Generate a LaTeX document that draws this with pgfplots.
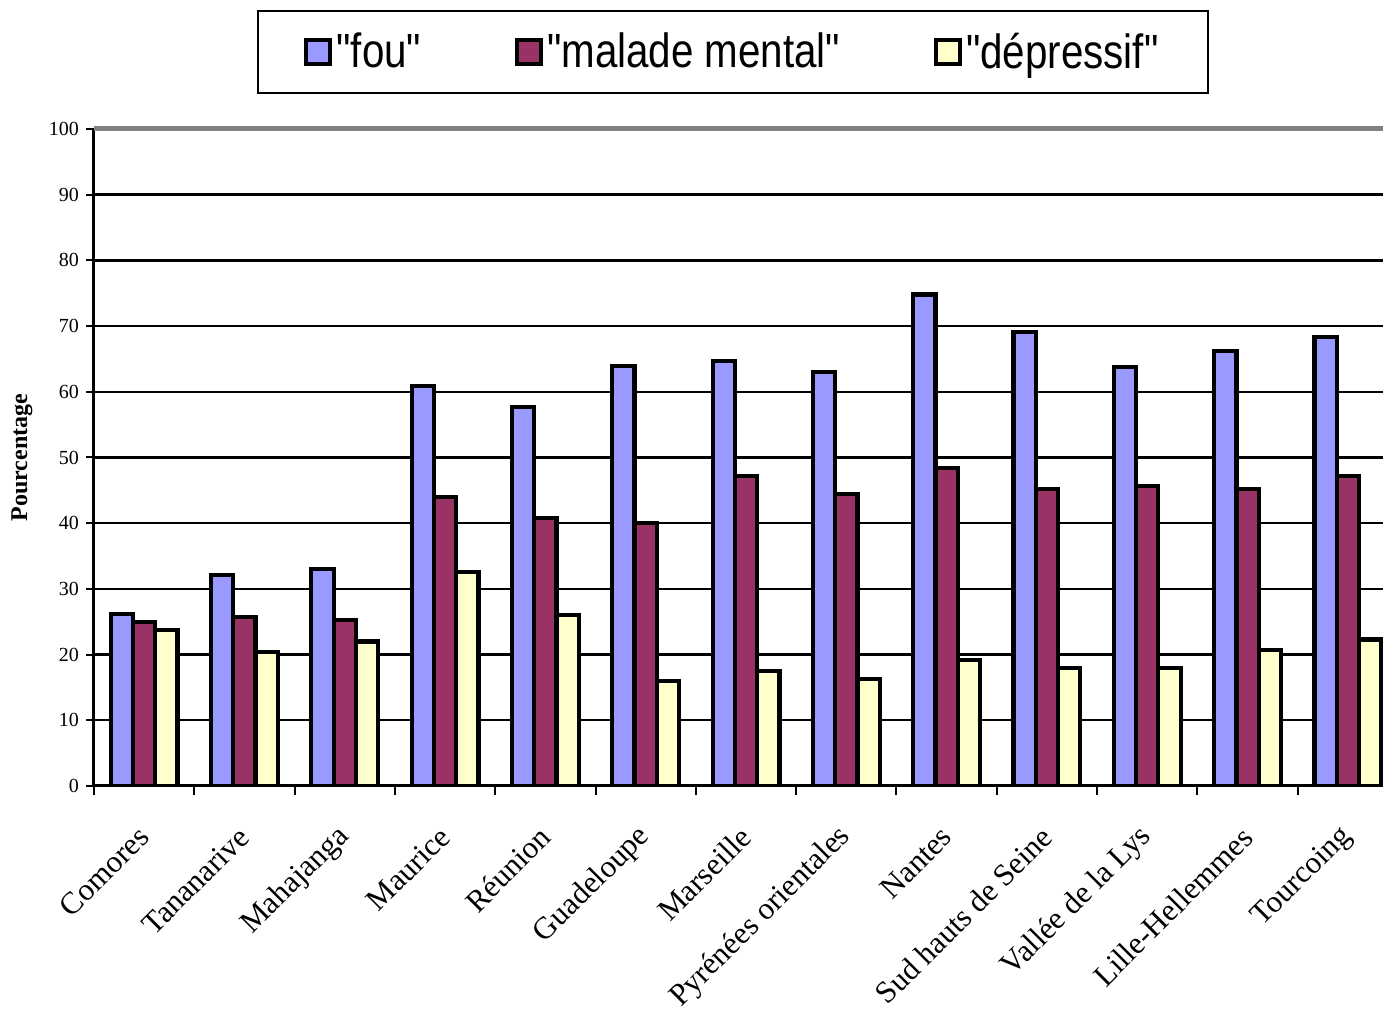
\documentclass[border=0pt]{standalone}
\usepackage{fontspec}
\setmainfont{Liberation Serif}
\newfontfamily\legfont[FakeStretch=0.84]{Liberation Sans}
\usepackage{pgfplots}
\pgfplotsset{compat=1.18}
\definecolor{cfou}{HTML}{9999FF}
\definecolor{cmal}{HTML}{993366}
\definecolor{cdep}{HTML}{FFFFCC}
\definecolor{ctop}{HTML}{808080}
\begin{document}
\begin{tikzpicture}
\begin{axis}[
  at={(47pt,112pt)}, anchor=south west,
  scale only axis, width=652pt, height=328.5pt,
  xmin=-0.5, xmax=12.5, ymin=0, ymax=100,
  ybar=0pt, bar width=0.222,
  axis x line*=bottom, axis y line*=left,
  axis line style={-, line width=1.5pt, black},
  ytick={0,10,...,100},
  ymajorgrids, grid style={line width=1.2pt, black},
  extra y ticks={100}, extra y tick labels={},
  extra y tick style={grid style={line width=2.5pt, ctop}, major tick length=0pt},
  xtick={0,...,12},
  xticklabels={Comores, Tananarive, Mahajanga, Maurice, Réunion, Guadeloupe, Marseille, Pyrénées orientales, Nantes, Sud hauts de Seine, Vallée de la Lys, Lille-Hellemmes, Tourcoing},
  minor xtick={-0.5,0.5,...,12.5},
  tick align=outside,
  major tick length=4pt, minor tick length=4.5pt,
  tick style={black, line width=1pt},
  major x tick style={draw=none},
  /pgf/number format/assume math mode=true,
  yticklabel style={font=\fontsize{10}{10}\selectfont},
  xticklabel style={font=\fontsize{15.5}{15.5}\selectfont, yshift=-19pt, rotate=45, anchor=east, inner sep=0pt},
  ylabel={\textbf{Pourcentage}},
  every axis y label/.style={at={(rel axis cs:0,0.5)}, xshift=-36pt, rotate=90, anchor=center, font=\fontsize{12}{12}\selectfont},
  legend columns=3,
  legend image code/.code={\draw[#1, draw=black, line width=2pt] (0pt,-6pt) rectangle (12pt,6pt);},
  legend style={at={(rel axis cs:0.4904,1.1172)}, anchor=center, draw=black, line width=1pt,
    font=\legfont\fontsize{24}{24}\selectfont, inner xsep=23pt, inner ysep=9pt,
    /tikz/every even column/.append style={column sep=45pt}},
]
\addplot[fill=cfou, draw=black, line width=2.1pt] coordinates {(0,26.2) (1,32.1) (2,33.0) (3,60.9) (4,57.7) (5,63.9) (6,64.7) (7,63.0) (8,74.8) (9,69.1) (10,63.8) (11,66.2) (12,68.3)};
\addplot[fill=cmal, draw=black, line width=2.1pt] coordinates {(0,25.0) (1,25.7) (2,25.3) (3,44.0) (4,40.8) (5,40.0) (6,47.2) (7,44.4) (8,48.4) (9,45.2) (10,45.6) (11,45.2) (12,47.2)};
\addplot[fill=cdep, draw=black, line width=2.1pt] coordinates {(0,23.7) (1,20.4) (2,22.0) (3,32.6) (4,26.0) (5,16.0) (6,17.5) (7,16.3) (8,19.2) (9,18.0) (10,18.0) (11,20.7) (12,22.3)};
\legend{"fou", "malade mental", "dépressif"}
\end{axis}
\pgfresetboundingbox
\path[use as bounding box] (0pt,0pt) rectangle (691.5pt,505pt);
\end{tikzpicture}
\end{document}
